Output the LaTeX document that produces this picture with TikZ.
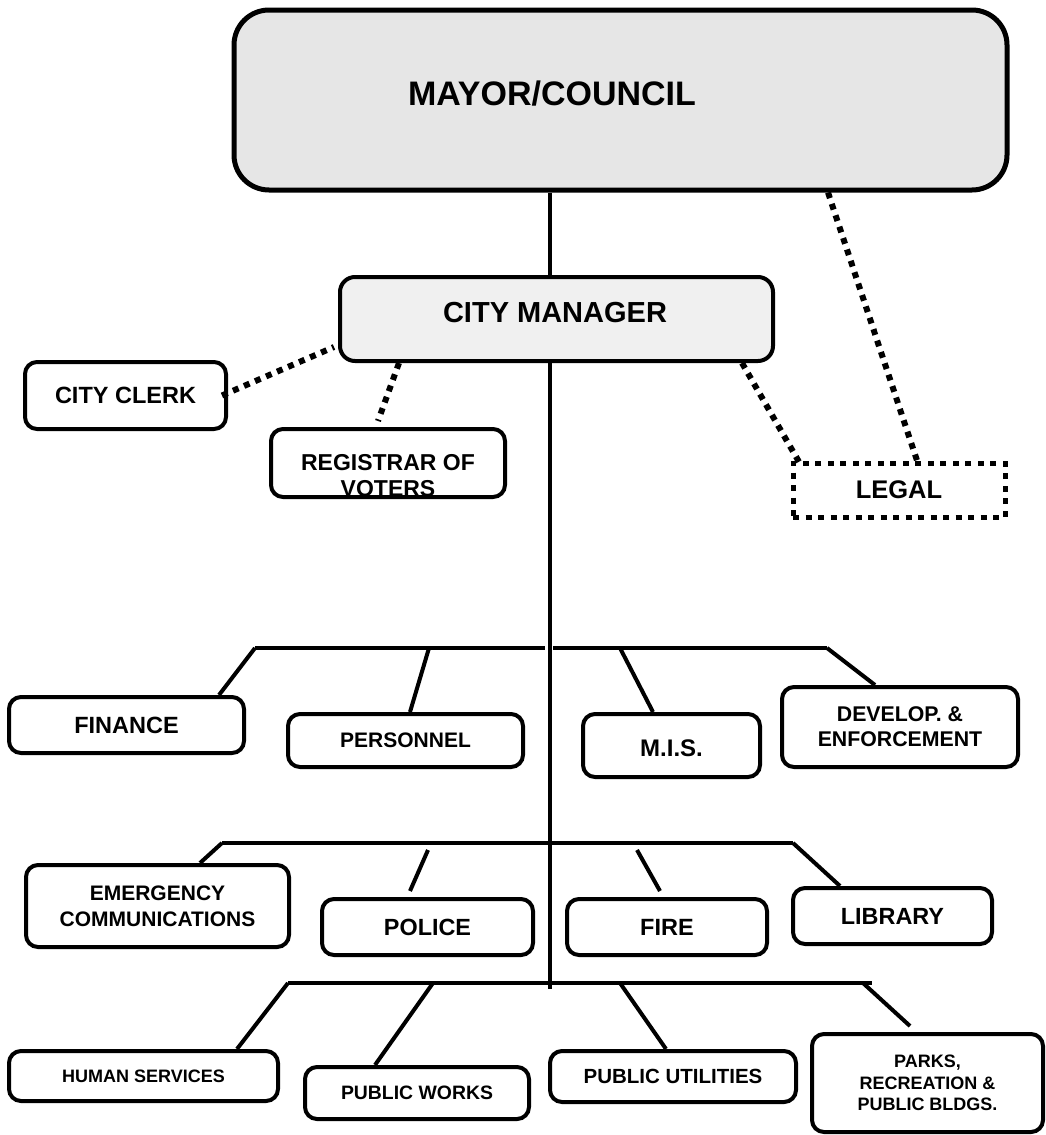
\documentclass[tikz,border=0pt]{standalone}
\usepackage{fontspec}
\setmainfont{Liberation Sans}
\usetikzlibrary{calc}
\newcommand\myfs[2]{\fontsize{#1}{#2}\selectfont\bfseries}
\definecolor{mayorfill}{HTML}{E6E6E6}
\definecolor{cmfill}{HTML}{F0F0F0}
\begin{document}
\begin{tikzpicture}[x=1pt,y=-1pt,
  box/.style={draw, line width=4pt, rounded corners=12pt, fill=white, inner sep=0pt, align=center},
  conn/.style={line width=4pt},
  dotline/.style={line width=6pt, dash pattern=on 6pt off 6pt},
  lbl/.style={inner sep=0pt, align=center}]
\useasboundingbox (0,0) rectangle (1045,1135);

% ---- boxes ----
\node[box, line width=5pt, rounded corners=35pt, fill=mayorfill, minimum width=773pt, minimum height=180pt] (mayor) at (620.5,100) {};
\node[lbl, font=\myfs{34}{40}] (mayort) at (552,94) {MAYOR/COUNCIL};

\node[box, rounded corners=15pt, fill=cmfill, minimum width=433pt, minimum height=84pt] (cm) at (556.5,319) {};
\node[lbl, font=\myfs{29}{34}] (cmt) at (555,313) {CITY MANAGER};

\node[box, minimum width=201pt, minimum height=67pt, font=\myfs{23.5}{27}] (clerk) at (125.5,395.5) {CITY CLERK};

\node[box, minimum width=234pt, minimum height=68pt] (reg) at (388,463) {};
\node[lbl, font=\myfs{23}{26}] (regt) at (388,476) {REGISTRAR OF\\VOTERS};

\node[draw, line width=5pt, dash pattern=on 6pt off 6.5pt, inner sep=0pt, minimum width=212pt, minimum height=54pt, font=\myfs{25.5}{29}] (legal) at (899,490) {LEGAL};

\node[box, minimum width=235pt, minimum height=56pt, font=\myfs{23.5}{27}] (fin) at (126.5,725) {FINANCE};
\node[box, minimum width=235pt, minimum height=53pt, font=\myfs{21}{25}] (pers) at (405.5,740.5) {PERSONNEL};
\node[box, minimum width=177pt, minimum height=63pt] (mis) at (671.5,745.5) {};
\node[lbl, font=\myfs{24}{28}] (mist) at (671.5,748) {M.I.S.};
\node[box, minimum width=236pt, minimum height=80pt, font=\myfs{21.3}{25}] (dev) at (900,727) {DEVELOP. \&\\ENFORCEMENT};

\node[box, minimum width=263pt, minimum height=82pt, font=\myfs{21}{26}] (emer) at (157.5,906) {EMERGENCY\\COMMUNICATIONS};
\node[box, minimum width=211pt, minimum height=56pt, font=\myfs{23.4}{27}] (pol) at (427.5,927) {POLICE};
\node[box, minimum width=200pt, minimum height=56pt, font=\myfs{23.5}{27}] (fire) at (667,927) {FIRE};
\node[box, minimum width=199pt, minimum height=56pt, font=\myfs{23.4}{27}] (lib) at (892.5,916) {LIBRARY};

\node[box, minimum width=269pt, minimum height=50pt, font=\myfs{18}{21}] (hum) at (143.5,1076) {HUMAN SERVICES};
\node[box, minimum width=224pt, minimum height=52pt, font=\myfs{19.4}{23}] (pw) at (417,1093) {PUBLIC WORKS};
\node[box, minimum width=246pt, minimum height=51pt, font=\myfs{20.5}{24}] (pu) at (673,1076.5) {PUBLIC UTILITIES};
\node[box, minimum width=231pt, minimum height=98pt, font=\myfs{18}{21.5}] (parks) at (927.5,1083) {PARKS,\\RECREATION \&\\PUBLIC BLDGS.};

% ---- solid spine ----
\draw[conn] (mayor.south -| 550,0) -- (cm.north -| 550,0);
\coordinate (spineend) at (550,989);
\draw[conn] (cm.south -| 550,0) -- (spineend);

% ---- row 1 ----
\coordinate (r1l) at (255,648);
\coordinate (r1m) at (545,648);
\coordinate (r1n) at (553,648);
\coordinate (r1r) at (827,648);
\coordinate (r1p) at (429,648);
\coordinate (r1s) at (620,648);
\draw[conn] (r1l) -- (r1m);
\draw[conn] (r1n) -- (r1r);
\draw[conn] (r1l) -- (fin.north -| 219,0);
\draw[conn] (r1p) -- (pers.north -| 410,0);
\draw[conn] (r1s) -- (mis.north -| 653,0);
\draw[conn] (r1r) -- (dev.north -| 875,0);

% ---- row 2 ----
\coordinate (r2l) at (222,843);
\coordinate (r2r) at (793,843);
\coordinate (r2p) at (428,850);
\coordinate (r2f) at (637,850);
\coordinate (polc) at ($(pol.north -| 410,0)+(0,-6)$);
\coordinate (firec) at ($(fire.north -| 660,0)+(0,-6)$);
\draw[conn] (r2l) -- (r2r);
\draw[conn] (r2l) -- (emer.north -| 200,0);
\draw[conn] (r2p) -- (polc);
\draw[conn] (r2f) -- (firec);
\draw[conn] (r2r) -- (lib.north -| 840,0);

% ---- row 3 ----
\coordinate (r3l) at (288,983);
\coordinate (r3e) at (872,983);
\coordinate (r3p) at (433,983);
\coordinate (r3u) at (620,983);
\coordinate (r3k) at (863,983);
\coordinate (parksc) at ($(parks.north -| 910,0)+(0,-6)$);
\draw[conn] (r3l) -- (r3e);
\draw[conn] (r3l) -- (hum.north -| 237,0);
\draw[conn] (r3p) -- (pw.north -| 375,0);
\draw[conn] (r3u) -- (pu.north -| 666,0);
\draw[conn] (r3k) -- (parksc);

% ---- dotted links ----
\draw[dotline] ([xshift=-6pt]clerk.east) -- ($(cm.south west)+(-4,-16)$);
\draw[dotline] (cm.south -| 399,0) -- ($(reg.north -| 378,0)+(0,-6)$);
\draw[dotline] (cm.south -| 742,0) -- ($(legal.north west)+(10,4)$);
\draw[dotline] (mayor.south -| 828,0) -- (legal.north -| 917,0);
\end{tikzpicture}
\end{document}
